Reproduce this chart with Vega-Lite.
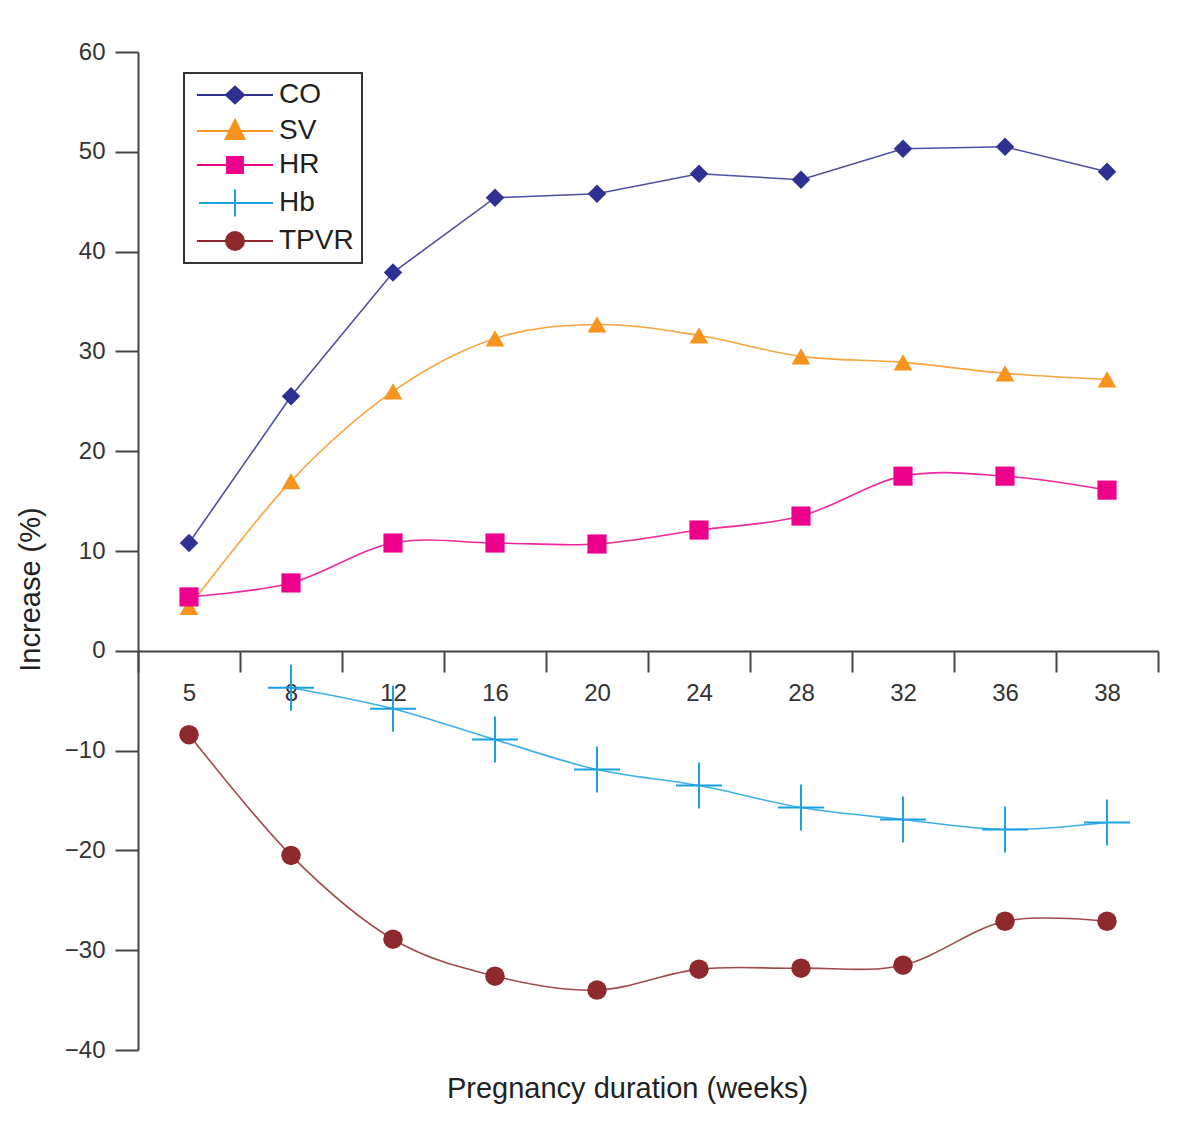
{
  "$schema": "https://vega.github.io/schema/vega-lite/v6.json",
  "width": 1020,
  "height": 998,
  "autosize": "none",
  "padding": {"left": 138, "top": 52, "right": 39, "bottom": 96},
  "background": "white",
  "config": {
    "view": {"stroke": null},
    "font": "Liberation Sans",
    "axis": {"grid": false, "domainColor": "#444", "domainWidth": 2, "tickColor": "#444", "tickWidth": 2, "labelColor": "#333", "titleColor": "#222", "labelFont": "Liberation Sans", "titleFont": "Liberation Sans", "titleFontWeight": "normal"}
  },
  "data": {"values": [
    {"week": 5, "series": "CO", "value": 10.8},
    {"week": 8, "series": "CO", "value": 25.5},
    {"week": 12, "series": "CO", "value": 37.9},
    {"week": 16, "series": "CO", "value": 45.4},
    {"week": 20, "series": "CO", "value": 45.8},
    {"week": 24, "series": "CO", "value": 47.8},
    {"week": 28, "series": "CO", "value": 47.2},
    {"week": 32, "series": "CO", "value": 50.3},
    {"week": 36, "series": "CO", "value": 50.5},
    {"week": 38, "series": "CO", "value": 48.0},
    {"week": 5, "series": "SV", "value": 4.4},
    {"week": 8, "series": "SV", "value": 17.0},
    {"week": 12, "series": "SV", "value": 26.0},
    {"week": 16, "series": "SV", "value": 31.3},
    {"week": 20, "series": "SV", "value": 32.7},
    {"week": 24, "series": "SV", "value": 31.6},
    {"week": 28, "series": "SV", "value": 29.5},
    {"week": 32, "series": "SV", "value": 28.9},
    {"week": 36, "series": "SV", "value": 27.8},
    {"week": 38, "series": "SV", "value": 27.2},
    {"week": 5, "series": "HR", "value": 5.4},
    {"week": 8, "series": "HR", "value": 6.8},
    {"week": 12, "series": "HR", "value": 10.8},
    {"week": 16, "series": "HR", "value": 10.8},
    {"week": 20, "series": "HR", "value": 10.7},
    {"week": 24, "series": "HR", "value": 12.1},
    {"week": 28, "series": "HR", "value": 13.5},
    {"week": 32, "series": "HR", "value": 17.5},
    {"week": 36, "series": "HR", "value": 17.5},
    {"week": 38, "series": "HR", "value": 16.1},
    {"week": 8, "series": "Hb", "value": -3.7},
    {"week": 12, "series": "Hb", "value": -5.8},
    {"week": 16, "series": "Hb", "value": -8.9},
    {"week": 20, "series": "Hb", "value": -11.9},
    {"week": 24, "series": "Hb", "value": -13.5},
    {"week": 28, "series": "Hb", "value": -15.7},
    {"week": 32, "series": "Hb", "value": -16.9},
    {"week": 36, "series": "Hb", "value": -17.9},
    {"week": 38, "series": "Hb", "value": -17.2},
    {"week": 5, "series": "TPVR", "value": -8.4},
    {"week": 8, "series": "TPVR", "value": -20.5},
    {"week": 12, "series": "TPVR", "value": -28.9},
    {"week": 16, "series": "TPVR", "value": -32.6},
    {"week": 20, "series": "TPVR", "value": -34.0},
    {"week": 24, "series": "TPVR", "value": -31.9},
    {"week": 28, "series": "TPVR", "value": -31.8},
    {"week": 32, "series": "TPVR", "value": -31.5},
    {"week": 36, "series": "TPVR", "value": -27.1},
    {"week": 38, "series": "TPVR", "value": -27.1}
  ]},
  "encoding": {
    "x": {
      "field": "week", "type": "ordinal",
      "scale": {"type": "band", "domain": [5, 8, 12, 16, 20, 24, 28, 32, 36, 38], "paddingInner": 0, "paddingOuter": 0},
      "axis": {"title": "Pregnancy duration (weeks)", "labelAngle": 0, "offset": -399, "tickBand": "extent", "tickSize": 21, "labelPadding": 9, "labelFontSize": 24, "titleFontSize": 29, "titleY": 437, "titleX": 489, "titleBaseline": "middle"}
    },
    "y": {
      "field": "value", "type": "quantitative",
      "scale": {"domain": [-40, 60], "nice": false},
      "axis": {"title": "Increase (%)", "values": [-40, -30, -20, -10, 0, 10, 20, 30, 40, 50, 60], "tickSize": 23, "labelPadding": 10, "labelFontSize": 24, "titleFontSize": 29, "titleAngle": 270, "titleX": -108, "titleY": 537, "titleBaseline": "middle", "titleAnchor": "middle"}
    },
    "color": {
      "field": "series", "type": "nominal",
      "scale": {"domain": ["CO", "SV", "HR", "Hb", "TPVR"], "range": ["#2e3192", "#f7941d", "#ec008c", "#1ba1e2", "#8e2a2d"]},
      "legend": {
        "title": null, "orient": "none", "legendX": 46, "legendY": 21,
        "strokeColor": "#333", "padding": 8, "rowPadding": 6,
        "symbolSize": 576, "symbolStrokeWidth": 2, "symbolOffset": 29, "labelOffset": 30,
        "labelFontSize": 28, "labelColor": "#231f20", "labelFont": "Liberation Sans",
        "encode": {
          "legend": {"update": {"strokeWidth": {"value": 2}}},
          "symbols": {"update": {
            "shape": {"signal": "datum.value === 'CO' ? 'M-3.17,0H3.17M0,-0.7L0.75,0L0,0.7L-0.75,0Z' : datum.value === 'SV' ? 'M-3.17,0H3.17M0,-0.92L0.79,0.67L-0.79,0.67Z' : datum.value === 'HR' ? 'M-3.17,0H3.17M-0.66,-0.66H0.66V0.66H-0.66Z' : datum.value === 'Hb' ? 'M-3.0,0H3.17M0,-1.12V1.12' : 'M-3.17,0H3.17M-0.75,0A0.75,0.75,0,1,1,0.75,0A0.75,0.75,0,1,1,-0.75,0Z'"},
            "fill": {"scale": "color", "field": "value"},
            "stroke": {"scale": "color", "field": "value"},
            "strokeWidth": {"value": 2},
            "opacity": {"value": 1},
            "fillOpacity": {"value": 1}
          }}
        }
      }
    }
  },
  "layer": [
    {
      "transform": [{"filter": "datum.series === 'CO'"}],
      "mark": {"type": "line", "interpolate": "linear", "strokeWidth": 1.6, "strokeOpacity": 0.85}
    },
    {
      "transform": [{"filter": "datum.series !== 'CO'"}],
      "mark": {"type": "line", "interpolate": "cardinal", "strokeWidth": 1.6, "strokeOpacity": 0.85}
    },
    {
      "transform": [{"filter": "datum.series !== 'Hb'"}],
      "mark": {"type": "point", "filled": true, "opacity": 1},
      "encoding": {
        "shape": {"field": "series", "type": "nominal", "scale": {"domain": ["CO", "SV", "HR", "TPVR"], "range": ["diamond", "triangle-up", "square", "circle"]}, "legend": null},
        "size": {"field": "series", "type": "nominal", "scale": {"domain": ["CO", "SV", "HR", "TPVR"], "range": [340, 380, 200, 290]}, "legend": null}
      }
    },
    {
      "transform": [{"filter": "datum.series === 'Hb'"}],
      "mark": {"type": "point", "filled": false, "shape": "M-1,0H1M0,-1V1", "size": 2116, "strokeWidth": 2, "opacity": 1}
    }
  ]
}
